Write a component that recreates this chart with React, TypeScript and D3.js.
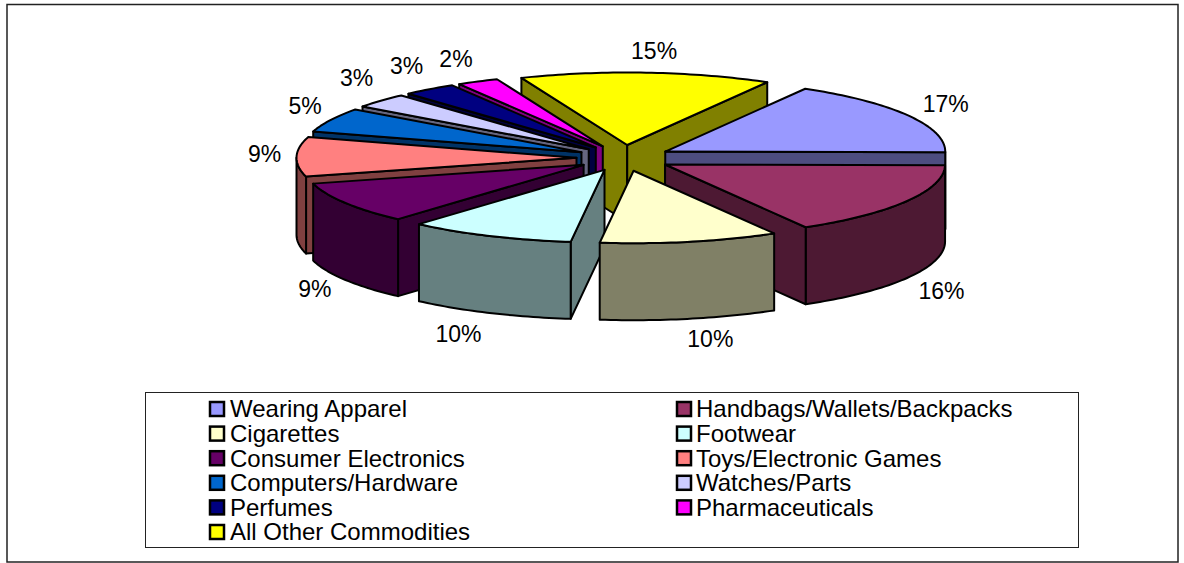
import React from "react";
import * as d3 from "d3";

const categories = [
  "Wearing Apparel",
  "Handbags/Wallets/Backpacks",
  "Cigarettes",
  "Footwear",
  "Consumer Electronics",
  "Toys/Electronic Games",
  "Computers/Hardware",
  "Watches/Parts",
  "Perfumes",
  "Pharmaceuticals",
  "All Other Commodities",
];
// share of seizures in percent
const shares = [16.8, 16.49, 10.3, 9.6, 9.3, 8.8, 5.4, 3.3, 3.1, 2.4, 14.5];
const topColors = [
  "#9999ff", "#993366", "#ffffcc", "#ccffff", "#660066", "#ff8080",
  "#0066cc", "#ccccff", "#000080", "#ff00ff", "#ffff00",
];
const sideColors = [
  "#4d4d80", "#4d1933", "#808066", "#668080", "#330033", "#804040",
  "#003366", "#666680", "#000040", "#800080", "#808000",
];
// small shifts so the labels sit where the original put them
const labelNudges = [
  [1, 0], [-2, 2], [12, -2], [-14, 0], [5, -3], [10, -2],
  [12, -4], [7, -8], [2, -5], [-3, -2], [5, 1],
];

const width = 1184;
const height = 563;
const cx = 624;
const cy = 158;
const rx = 280;
const ry = 72.5;
const depth = 77;
const explodeX = 47.5;
const explodeY = 13;
const labelRx = 322;
const labelRy = 95;
const font = "'Liberation Sans', Arial, sans-serif";

const startDeg = 30;
const pieAngles = d3
  .pie<number>()
  .sort(null)
  .startAngle((startDeg * Math.PI) / 180)
  .endAngle((startDeg * Math.PI) / 180 + Math.PI * 2)(shares);

// clockwise from 12 o'clock, flattened onto the ellipse
const px = (a: number, r = rx) => r * Math.sin(a);
const py = (a: number, r = ry) => -r * Math.cos(a);
const lineGen = d3.line<[number, number]>();

function arcPoints(ax: number, ay: number, a0: number, a1: number) {
  const n = Math.max(2, Math.ceil((a1 - a0) / 0.02));
  return d3.range(n + 1).map((i) => {
    const a = a0 + ((a1 - a0) * i) / n;
    return [ax + px(a), ay + py(a)] as [number, number];
  });
}

const slices = pieAngles.map((d, i) => {
  const mid = (d.startAngle + d.endAngle) / 2;
  return {
    i,
    a0: d.startAngle,
    a1: d.endAngle,
    mid,
    ax: cx + px(mid, explodeX),
    ay: cy + py(mid, explodeY),
  };
});

// paint from the back of the pie to the front
const paintOrder = [...slices].sort((a, b) => {
  const dist = (m: number) => Math.abs(Math.atan2(Math.sin(m - Math.PI), Math.cos(m - Math.PI)));
  return dist(b.mid) - dist(a.mid);
});

function Slice({ s }: { s: (typeof slices)[number] }) {
  const { ax, ay, a0, a1, i } = s;
  const stroke = { stroke: "#000", strokeWidth: 2, strokeLinejoin: "round" as const };
  const wall = (a: number) => {
    const ex = ax + px(a);
    const ey = ay + py(a);
    const pts: [number, number][] = [
      [ax, ay],
      [ex, ey],
      [ex, ey + depth],
      [ax, ay + depth],
    ];
    return lineGen(pts) + "Z";
  };
  // only faces turned towards the viewer get drawn
  const showStart = Math.sin(a0) < 0;
  const showEnd = Math.sin(a1) > 0;
  const from = Math.max(a0, Math.PI / 2);
  const to = Math.min(a1, (3 * Math.PI) / 2);
  const top = arcPoints(ax, ay, from, to);
  const bottom = arcPoints(ax, ay + depth, from, to).reverse();
  return (
    <g {...stroke}>
      {showStart && <path d={wall(a0)} fill={sideColors[i]} />}
      {to > from && <path d={lineGen([...top, ...bottom]) + "Z"} fill={sideColors[i]} />}
      {showEnd && <path d={wall(a1)} fill={sideColors[i]} />}
      <path
        d={lineGen([[ax, ay], ...arcPoints(ax, ay, a0, a1)]) + "Z"}
        fill={topColors[i]}
      />
    </g>
  );
}

export default function App() {
  const legendRows = d3.range(Math.ceil(categories.length / 2));
  const rowY = d3.scalePoint<number>().domain(legendRows).range([409, 532]);
  return (
    <svg
      width={width}
      height={height}
      style={{ position: "absolute", left: 0, top: 0, background: "#fff" }}
    >
      <rect x={7} y={4.5} width={1171} height={557.5} fill="#fff" stroke="#222" strokeWidth={1.5} />
      {paintOrder.map((s) => (
        <Slice key={s.i} s={s} />
      ))}
      {slices.map((s) => {
        const below = Math.cos(s.mid) < 0 ? depth : 0;
        return (
          <text
            key={s.i}
            x={s.ax + px(s.mid, labelRx) + labelNudges[s.i][0]}
            y={s.ay + py(s.mid, labelRy) + below + labelNudges[s.i][1]}
            dy="0.35em"
            textAnchor="middle"
            fontFamily={font}
            fontSize={23}
            fill="#000"
          >
            {Math.round(shares[s.i])}%
          </text>
        );
      })}
      <rect x={145.5} y={392.5} width={933} height={155} fill="#fff" stroke="#222" strokeWidth={1} />
      {categories.map((name, i) => {
        const col = i % 2;
        const row = Math.floor(i / 2);
        const sx = col ? 676 : 209;
        const y = rowY(row) as number;
        return (
          <g key={name}>
            <rect
              x={sx + 1}
              y={y - 7}
              width={14}
              height={14}
              fill={topColors[i]}
              stroke="#000"
              strokeWidth={2.5}
            />
            <text x={sx + (col ? 20 : 21)} y={y} dy="0.35em" fontFamily={font} fontSize={24} fill="#000">
              {name}
            </text>
          </g>
        );
      })}
    </svg>
  );
}
